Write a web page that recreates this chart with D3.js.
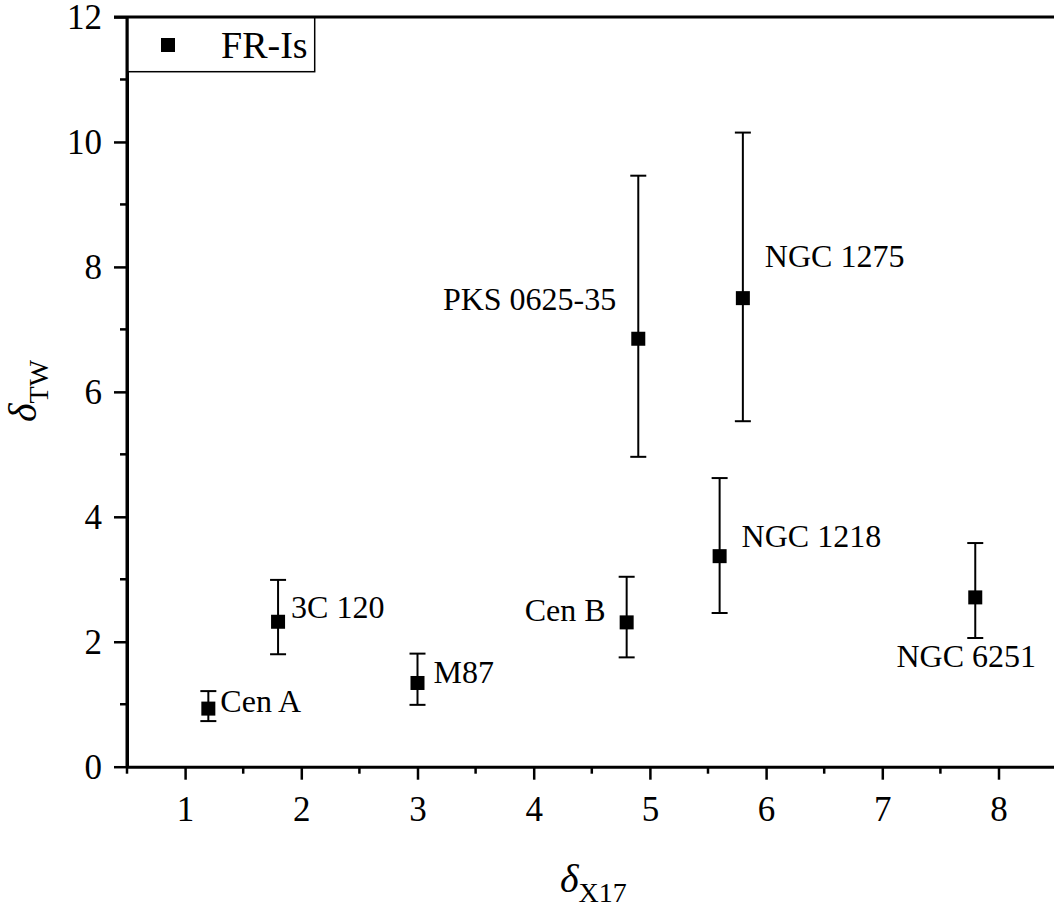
<!DOCTYPE html>
<html>
<head>
<meta charset="utf-8">
<script src="https://cdn.jsdelivr.net/npm/d3@7"></script>
<style>
  html, body { margin: 0; padding: 0; background: #fff; }
  svg text { font-family: 'Liberation Serif', 'DejaVu Serif', serif; }
</style>
</head>
<body>
<div id="chart"></div>
<script>
// sources and their values
const names   = ["Cen A", "3C 120", "M87", "Cen B", "PKS 0625-35", "NGC 1218", "NGC 1275", "NGC 6251"];
const xVals   = [1.2, 1.8, 3.0, 4.8, 4.9, 5.6, 5.8, 7.8];
const yVals   = [0.93, 2.32, 1.34, 2.31, 6.85, 3.37, 7.50, 2.71];
const yLow    = [0.73, 1.80, 0.99, 1.75, 4.96, 2.46, 5.53, 2.06];
const yHigh   = [1.21, 2.99, 1.81, 3.04, 9.46, 4.62, 10.15, 3.58];
// where each name sits relative to its point (dx, dy in px, anchor)
const labelDx  = [12, 13, 16, -21, -22, 22, 22, -9];
const labelDy  = [3, -4, 0, -1, -29, -9.5, -31.5, 28.7];
const labelAnchor = ["start", "start", "start", "end", "end", "start", "start", "middle"];

const xTicks = [1, 2, 3, 4, 5, 6, 7, 8];
const yTicks = [0, 2, 4, 6, 8, 10, 12];

const FONT = "'Liberation Serif', 'DejaVu Serif', serif";
const width = 1054, height = 914;
const svg = d3.select("#chart").append("svg")
    .attr("width", width)
    .attr("height", height)
    .attr("font-family", FONT);

const x = d3.scaleLinear().domain([0.5, 8.5]).range([127, 1056.6]);
const y = d3.scaleLinear().domain([0, 12]).range([766.7, 17]);

// minor ticks
const xMinor = d3.range(0.5, 8.6, 1);
const yMinor = d3.range(1, 12, 2);

svg.append("g")
    .selectAll("line")
    .data(xMinor)
    .join("line")
    .attr("x1", d => x(d)).attr("x2", d => x(d))
    .attr("y1", y(0)).attr("y2", y(0) + 7)
    .attr("stroke", "#000").attr("stroke-width", 2.5);

svg.append("g")
    .selectAll("line")
    .data(yMinor)
    .join("line")
    .attr("x1", x(0.5)).attr("x2", x(0.5) - 7)
    .attr("y1", d => y(d)).attr("y2", d => y(d))
    .attr("stroke", "#000").attr("stroke-width", 2.5);

// x axis
const xAxis = svg.append("g")
    .attr("transform", `translate(0,${y(0)})`)
    .call(d3.axisBottom(x).tickValues(xTicks).tickSize(13).tickPadding(16).tickSizeOuter(0));

// y axis
const yAxis = svg.append("g")
    .attr("transform", `translate(${x(0.5)},0)`)
    .call(d3.axisLeft(y).tickValues(yTicks).tickSize(13).tickPadding(12).tickSizeOuter(0));

[xAxis, yAxis].forEach(g => {
    g.attr("font-family", FONT).attr("font-size", 35);
    g.select(".domain").attr("stroke", "#000").attr("stroke-width", 3);
    g.selectAll(".tick line").attr("stroke", "#000").attr("stroke-width", 2.5);
    g.selectAll(".tick text").attr("fill", "#000");
});
yAxis.selectAll(".tick text").attr("dy", "0.34em");

// error bars
const capW = 8;
const bars = svg.append("g").attr("stroke", "#000").attr("stroke-width", 2);
xVals.forEach((xv, i) => {
    const cx = x(xv);
    bars.append("line")
        .attr("x1", cx).attr("x2", cx)
        .attr("y1", y(yLow[i])).attr("y2", y(yHigh[i]));
    [yLow[i], yHigh[i]].forEach(v => {
        bars.append("line")
            .attr("x1", cx - capW).attr("x2", cx + capW)
            .attr("y1", y(v)).attr("y2", y(v));
    });
});

// square markers
const m = 14;
svg.append("g")
    .selectAll("rect")
    .data(xVals)
    .join("rect")
    .attr("x", d => x(d) - m / 2)
    .attr("y", (d, i) => y(yVals[i]) - m / 2)
    .attr("width", m).attr("height", m)
    .attr("fill", "#000");

// source names
svg.append("g")
    .attr("font-size", 32)
    .selectAll("text")
    .data(names)
    .join("text")
    .attr("x", (d, i) => x(xVals[i]) + labelDx[i])
    .attr("y", (d, i) => (labelAnchor[i] === "middle" ? y(yLow[i]) : y(yVals[i])) + labelDy[i])
    .attr("text-anchor", (d, i) => labelAnchor[i])
    .attr("fill", "#000")
    .text(d => d);

// legend
const lg = svg.append("g");
lg.append("rect")
    .attr("x", 127.7).attr("y", 17)
    .attr("width", 187).attr("height", 54.7)
    .attr("fill", "#fff").attr("stroke", "#000").attr("stroke-width", 1.5);
lg.append("rect")
    .attr("x", 168 - m / 2).attr("y", 45 - m / 2)
    .attr("width", m).attr("height", m).attr("fill", "#000");
lg.append("text")
    .attr("x", 221).attr("y", 58)
    .attr("font-size", 38)
    .text("FR-Is");

// left and top frame lines over the legend border
svg.append("line")
    .attr("x1", x(0.5)).attr("x2", x(0.5))
    .attr("y1", y(12)).attr("y2", y(0))
    .attr("stroke", "#000").attr("stroke-width", 3);
svg.append("line")
    .attr("x1", x(0.5) - 13).attr("x2", width)
    .attr("y1", y(12)).attr("y2", y(12))
    .attr("stroke", "#000").attr("stroke-width", 3);

// axis titles
const xt = svg.append("text")
    .attr("x", 560).attr("y", 892)
    .attr("font-size", 40);
xt.append("tspan").attr("font-style", "italic").text("δ");
xt.append("tspan").attr("dy", 10).attr("font-size", 28).text("X17");

const yt = svg.append("text")
    .attr("transform", "translate(36,422) rotate(-90)")
    .attr("font-size", 40);
yt.append("tspan").attr("font-style", "italic").text("δ");
yt.append("tspan").attr("dy", 12).attr("font-size", 28).text("TW");
</script>
</body>
</html>
